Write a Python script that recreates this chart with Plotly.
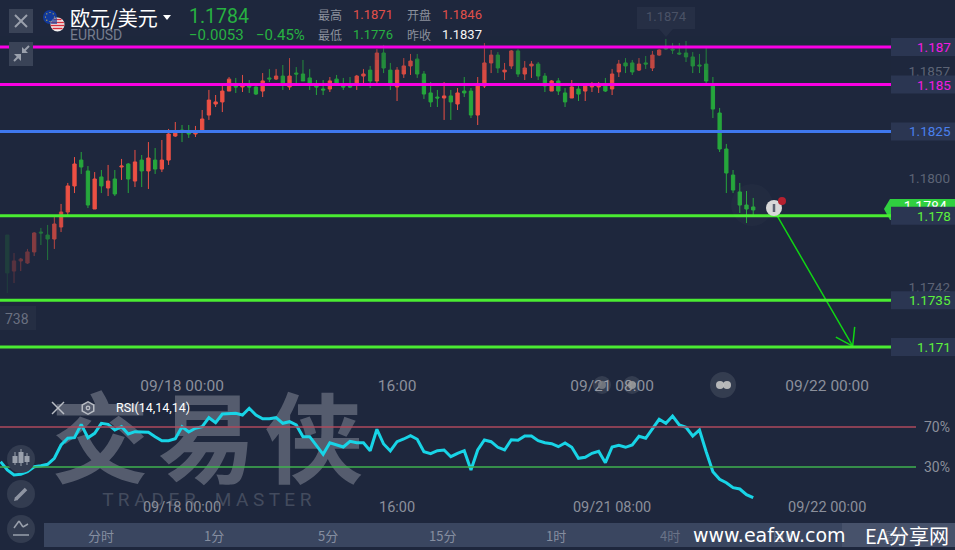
import plotly.graph_objects as go

# ---------- data ----------
opens = [1.17697,1.17505,1.17559,1.17548,1.17607,1.17713,1.17697,1.17676,1.17740,1.17820,
1.17959,1.18097,1.18039,1.17836,1.18007,1.17948,1.17996,1.18060,1.18076,1.17985,
1.18097,1.18039,1.18097,1.18049,1.18097,1.18225,1.18257,1.18252,1.18236,1.18257,
1.18337,1.18396,1.18407,1.18465,1.18492,1.18487,1.18492,1.18487,1.18465,1.18535,
1.18529,1.18545,1.18487,1.18561,1.18556,1.18535,1.18492,1.18476,1.18476,1.18529,
1.18492,1.18492,1.18503,1.18545,1.18577,1.18519,1.18668,1.18577,1.18487,1.18556,
1.18599,1.18636,1.18556,1.18455,1.18433,1.18428,1.18439,1.18396,1.18465,1.18465,
1.18337,1.18492,1.18615,1.18657,1.18567,1.18599,1.18679,1.18556,1.18599,1.18609,
1.18545,1.18465,1.18519,1.18455,1.18428,1.18476,1.18465,1.18487,1.18487,1.18492,
1.18476,1.18567,1.18615,1.18615,1.18577,1.18615,1.18588,1.18657,1.18700,1.18689,
1.18668,1.18668,1.18647,1.18604,1.18609,1.18492,1.18348,1.18156,1.18017,1.17927,
1.17857,1.17847]
highs = [1.17697,1.17601,1.17575,1.17623,1.17713,1.17735,1.17751,1.17793,1.17863,1.17975,
1.18113,1.18140,1.18065,1.18033,1.18044,1.18071,1.18044,1.18103,1.18081,1.18151,
1.18124,1.18193,1.18161,1.18204,1.18263,1.18300,1.18284,1.18284,1.18279,1.18364,
1.18471,1.18444,1.18497,1.18540,1.18535,1.18551,1.18524,1.18492,1.18561,1.18583,
1.18583,1.18604,1.18641,1.18593,1.18631,1.18583,1.18524,1.18524,1.18540,1.18551,
1.18535,1.18540,1.18551,1.18583,1.18599,1.18689,1.18711,1.18615,1.18593,1.18641,
1.18663,1.18663,1.18572,1.18513,1.18471,1.18513,1.18471,1.18481,1.18540,1.18481,
1.18540,1.18721,1.18684,1.18673,1.18615,1.18684,1.18689,1.18625,1.18625,1.18620,
1.18561,1.18524,1.18535,1.18481,1.18524,1.18492,1.18503,1.18513,1.18513,1.18535,
1.18583,1.18631,1.18641,1.18631,1.18641,1.18652,1.18679,1.18689,1.18743,1.18721,
1.18721,1.18732,1.18673,1.18663,1.18695,1.18540,1.18375,1.18183,1.18044,1.17975,
1.17932,1.17895]
lows = [1.17388,1.17441,1.17505,1.17543,1.17585,1.17644,1.17564,1.17623,1.17713,1.17804,
1.17921,1.18023,1.17841,1.17836,1.17921,1.17905,1.17905,1.17991,1.17921,1.17953,
1.17953,1.17943,1.18023,1.18033,1.18071,1.18220,1.18193,1.18215,1.18220,1.18247,
1.18311,1.18380,1.18353,1.18465,1.18455,1.18460,1.18455,1.18444,1.18433,1.18513,
1.18524,1.18471,1.18471,1.18497,1.18519,1.18471,1.18444,1.18444,1.18460,1.18492,
1.18471,1.18481,1.18471,1.18503,1.18481,1.18508,1.18561,1.18471,1.18412,1.18535,
1.18551,1.18535,1.18423,1.18380,1.18380,1.18311,1.18311,1.18364,1.18433,1.18321,
1.18284,1.18481,1.18561,1.18561,1.18524,1.18583,1.18540,1.18524,1.18535,1.18524,
1.18460,1.18465,1.18444,1.18380,1.18428,1.18412,1.18412,1.18460,1.18455,1.18460,
1.18444,1.18540,1.18561,1.18551,1.18572,1.18583,1.18572,1.18652,1.18684,1.18663,
1.18657,1.18620,1.18561,1.18561,1.18503,1.18321,1.18140,1.17921,1.17921,1.17815,
1.17761,1.17799]
closes = [1.17495,1.17559,1.17569,1.17607,1.17708,1.17708,1.17676,1.17756,1.17820,1.17959,
1.18076,1.18060,1.17857,1.17996,1.17959,1.17985,1.17916,1.18065,1.17996,1.18087,
1.18039,1.18108,1.18049,1.18097,1.18236,1.18241,1.18247,1.18236,1.18252,1.18316,
1.18417,1.18407,1.18465,1.18529,1.18487,1.18492,1.18487,1.18449,1.18519,1.18529,
1.18545,1.18503,1.18545,1.18556,1.18519,1.18508,1.18487,1.18471,1.18519,1.18503,
1.18487,1.18487,1.18545,1.18556,1.18519,1.18668,1.18588,1.18508,1.18577,1.18599,
1.18625,1.18556,1.18449,1.18407,1.18428,1.18439,1.18407,1.18455,1.18455,1.18337,
1.18492,1.18615,1.18657,1.18588,1.18577,1.18679,1.18556,1.18588,1.18609,1.18545,
1.18492,1.18519,1.18465,1.18407,1.18487,1.18449,1.18497,1.18497,1.18492,1.18465,
1.18556,1.18609,1.18599,1.18567,1.18609,1.18609,1.18657,1.18684,1.18689,1.18684,
1.18663,1.18647,1.18599,1.18599,1.18519,1.18369,1.18156,1.18028,1.17937,1.17857,
1.17836,1.17831]
rsi = [35.3,27,22,22.7,25.3,30.3,31.3,32.7,38.7,52,58.7,59.3,72.7,59.3,63.7,73.7,72.7,67,70.3,63,
65.3,65,64.7,60.3,56.3,56.3,58.3,70.3,65,68.7,70.3,79.3,74.3,83,83,83.7,82,88.7,82,78.3,
78.3,79.3,73.7,75.3,72,60.3,60.3,52,42.7,54.3,52,50,55.7,54.3,54.3,46.3,67.7,53,46,55.3,
58,61.3,57.7,45.3,43.3,46.3,47,40.3,43.7,46.3,27,47,57,55.3,49.7,47,57.3,56.7,61,61,
56.3,54.3,53.3,50.3,54,49.7,38.7,39.7,43.7,45.7,34.3,50,51.7,49.7,52,60.7,58.7,68.7,77.7,73.7,
81,72,69.7,61,67,45.3,25.3,17.7,14.3,9.3,8,2.3,-0.7]
candle_index = list(range(len(opens)))
rsi_index = list(range(-1, len(opens)))

levels = [1.187, 1.185, 1.1825, 1.178, 1.1735, 1.171]
level_labels = ["1.187", "1.185", "1.1825", "1.178", "1.1735", "1.171"]
level_colors = ["#fa00e4", "#fa00e4", "#3f78ee", "#4aec32", "#4aec32", "#4aec32"]
label_colors = ["#f21be0", "#f21be0", "#4a80ee", "#5cf03c", "#5cf03c", "#5cf03c"]

price_ticks = [1.1857, 1.18, 1.1742]
time_ticks = [26, 58, 90, 122]
time_labels = ["09/18 00:00", "16:00", "09/21 08:00", "09/22 00:00"]
rsi_levels = [70, 30]
tabs = ["分时", "1分", "5分", "15分", "1时", "4时", "日K"]
watermark = ["<b>交</b>", "<b>易</b>", "<b>侠</b>"]

arrow_x = [113.9, 125.8, 123.3, 125.8, 126.1]
arrow_y = [1.17841, 1.17105, 1.17153, 1.17105, 1.17207]

# ---------- style ----------
W, H = 955, 550
BG = "#1e273d"
RED = "#ec5044"
GREEN = "#26a63c"
FONT = "Roboto, 'Noto Sans CJK SC', sans-serif"
CJK = "'Noto Sans CJK SC', sans-serif"

def px(x): return x / W
def py(y): return 1 - y / H

shapes, annos = [], []

def rect(x0, y0, x1, y1, color, opacity=1, layer="above"):
    shapes.append(dict(type="rect", xref="paper", yref="paper", x0=px(x0), x1=px(x1), y0=py(y0), y1=py(y1),
                       fillcolor=color, opacity=opacity, line=dict(width=0), layer=layer))

def circle(cx, cy, r, color, opacity=1, line=None):
    shapes.append(dict(type="circle", xref="paper", yref="paper", x0=px(cx - r), x1=px(cx + r), y0=py(cy - r), y1=py(cy + r),
                       fillcolor=color, opacity=opacity, line=line or dict(width=0), layer="above"))

def seg(x0, y0, x1, y1, color, width=1.5, opacity=1):
    shapes.append(dict(type="line", xref="paper", yref="paper", x0=px(x0), x1=px(x1), y0=py(y0), y1=py(y1),
                       line=dict(color=color, width=width), opacity=opacity, layer="above"))

def poly(points, color, opacity=1, layer="above"):
    d = "M " + " L ".join(f"{px(x):.5f} {py(y):.5f}" for x, y in points) + " Z"
    shapes.append(dict(type="path", xref="paper", yref="paper", path=d, fillcolor=color, opacity=opacity,
                       line=dict(width=0), layer=layer))

def text(x, y, s, size, color, anchor="left", family=FONT, opacity=1):
    annos.append(dict(xref="paper", yref="paper", x=px(x), y=py(y), text=s, showarrow=False, xanchor=anchor,
                      yanchor="middle", font=dict(size=size, color=color, family=family), opacity=opacity,
                      borderpad=0, borderwidth=0))

# ---------- traces ----------
fig = go.Figure()
fig.add_trace(go.Candlestick(x=candle_index, open=opens, high=highs, low=lows, close=closes,
                             increasing=dict(line=dict(color=RED, width=1), fillcolor=RED),
                             decreasing=dict(line=dict(color=GREEN, width=1), fillcolor=GREEN),
                             whiskerwidth=0, hoverinfo="skip", showlegend=False, xaxis="x", yaxis="y"))
fig.add_trace(go.Scatter(x=arrow_x, y=arrow_y, mode="lines", line=dict(color="#10d414", width=1.5),
                         hoverinfo="skip", showlegend=False, xaxis="x", yaxis="y"))
# live price tag text, partly hidden by the 1.178 box
fig.add_trace(go.Scatter(x=[136.6], y=[1.1784], mode="text", text=["1.1784"], textposition="middle center",
                         textfont=dict(size=14, color="#ffffff", family=FONT), hoverinfo="skip",
                         showlegend=False, cliponaxis=False, xaxis="x", yaxis="y"))
# watermark below RSI line
fig.add_trace(go.Scatter(x=[13.8, 29.7, 45.6], y=[47, 47, 47], mode="text", text=watermark, textposition="middle center",
                         textfont=dict(size=98, color="#555c6e", family=CJK), hoverinfo="skip",
                         showlegend=False, cliponaxis=False, xaxis="x2", yaxis="y2"))
fig.add_trace(go.Scatter(x=[29.7], y=[5], mode="text", text=["T R A D E R    M A S T E R"], textposition="bottom center",
                         textfont=dict(size=19, color="#434b5e", family=FONT), hoverinfo="skip",
                         showlegend=False, cliponaxis=False, xaxis="x2", yaxis="y2"))
fig.add_trace(go.Scatter(x=rsi_index, y=rsi, mode="lines", line=dict(color="#18d4e6", width=3),
                         hoverinfo="skip", showlegend=False, xaxis="x2", yaxis="y2"))

# ---------- shapes: fades ----------
for x0, a in [(0, .82), (10, .72), (20, .62), (30, .5), (40, .38), (50, .25), (60, .1)]:
    rect(x0, 210, x0 + 10, 300, BG, a)
for y0, a in [(36, .35), (50, .28), (60, .2), (70, .1)]:
    rect(0, y0, 891, y0 + 10 if y0 > 36 else 50, BG, a)

# top / bottom marker boxes
rect(637, 7, 695, 29, "#262f45")
poly([(659, 29), (673, 29), (666, 37)], "#262f45")
text(666, 17, "1.1874", 13, "#4a5266", "center")
rect(0, 306, 36, 330, "#252e43")
text(5, 319, "738", 14, "#6a7080")

# live tag sits under its text
poly([(884, 209), (890, 199), (955, 199), (955, 220), (890, 220)], "#30d040", 1, layer="below")

# level lines and boxes
for lv, col in zip(levels, level_colors):
    shapes.append(dict(type="line", xref="paper", yref="y", x0=0, x1=px(891), y0=lv, y1=lv,
                       line=dict(color=col, width=3), layer="above"))
for lv, lab, col in zip(levels, level_labels, label_colors):
    shapes.append(dict(type="rect", xref="paper", yref="y", x0=px(891), x1=1,
                       y0=lv - 9 / 18750, y1=lv + 9 / 18750, fillcolor="#2b3652", line=dict(width=0), layer="above"))
    annos.append(dict(xref="paper", yref="y", x=px(952.5), y=lv, text=lab, showarrow=False, xanchor="right",
                      yanchor="middle", font=dict(size=13.5, color=col, family=FONT)))

# RSI level lines
for lv, col in zip(rsi_levels, ["#ae4a5c", "#3fb24f"]):
    shapes.append(dict(type="line", xref="paper", yref="y2", x0=0, x1=px(916), y0=lv, y1=lv,
                       line=dict(color=col, width=1.5), layer="above"))

# info icon
circle(752, 205, 21, "#ffffff", .018)
circle(774, 208, 8, "#d8d8d8")
seg(774, 204, 774, 212, "#5a6070", 2.5)
circle(782, 201, 4, "#b5202f")

# time-axis bubbles
for cx, r, inner, col in [(602, 9, 4, "#777a82"), (632, 9, 4, "#9a9a9a"), (723, 13, 0, "#000"), (720, 0, 4, "#c4c4c4"), (727, 0, 4, "#c4c4c4")]:
    if r:
        circle(cx, 385, r, "#ffffff", .1)
    if inner:
        circle(cx, 385, inner, col, .9)

# ---------- header ----------
rect(9, 9, 33, 33, "#3a4357", layer="above")
seg(15, 15, 27, 27, "#9aa0ac", 2)
seg(27, 15, 15, 27, "#9aa0ac", 2)
rect(9, 42, 33, 66, "#3a4357")
seg(14, 61, 20, 55, "#9aa0ac", 2)
seg(23, 52, 29, 46, "#9aa0ac", 2)
poly([(14, 54), (21, 54), (21, 61)], "#9aa0ac")
poly([(22, 53), (22, 47), (28, 53)], "#9aa0ac")

circle(50, 17, 7, "#123a9c")
for dx, dy in [(0, -4.5), (3.2, -3.2), (4.5, 0), (3.2, 3.2), (0, 4.5), (-3.2, 3.2), (-4.5, 0), (-3.2, -3.2)]:
    circle(50 + dx, 17 + dy, .6, "#e8c840")
circle(57.5, 24.5, 7, "#f4f4f4")
for yy, half in [(19.5, 4), (22.5, 6.4), (25.5, 6.7), (28.5, 5)]:
    seg(57.5 - half, yy, 57.5 + half, yy, "#d8303c", 1.5)
poly([(52, 19), (57, 18), (57, 24), (51, 24)], "#2b4a9c", .75)

text(70, 18, "欧元/美元", 20, "#ffffff", family=CJK)
poly([(163, 15), (171, 15), (167, 20)], "#ffffff")
text(70, 35, "EURUSD", 14, "#767d8e")
text(189, 17, "1.1784", 19.5, "#27b141")
text(189, 35, "−0.0053", 15, "#27b141")
text(256, 35, "−0.45%", 15, "#27b141")
text(318, 15, "最高", 12, "#8b909c", family=CJK)
text(353, 15, "1.1871", 13, "#e0504a")
text(407, 15, "开盘", 12, "#8b909c", family=CJK)
text(442, 15, "1.1846", 13, "#e0504a")
text(318, 35, "最低", 12, "#8b909c", family=CJK)
text(353, 35, "1.1776", 13, "#27b141")
text(407, 35, "昨收", 12, "#8b909c", family=CJK)
text(442, 35, "1.1837", 13, "#f4f4f4")

# ---------- RSI header ----------
seg(52, 402, 64, 414, "#b8bcc4", 1.5)
seg(64, 402, 52, 414, "#b8bcc4", 1.5)
poly([(88, 401), (94.5, 404.5), (94.5, 411.5), (88, 415), (81.5, 411.5), (81.5, 404.5)], "#b8bcc4")
poly([(88, 402.6), (93, 405.4), (93, 410.6), (88, 413.4), (83, 410.6), (83, 405.4)], "#555c6e")
circle(88, 408, 2.4, "#b8bcc4")
circle(88, 408, 1.1, "#555c6e")
text(116, 407, "RSI(14,14,14)", 12.5, "#ffffff")

# ---------- left tool buttons ----------
for cy in [459, 494, 529]:
    circle(21, cy, 14, "#333c50")
for xc, y0, y1, h0, h1 in [(15, 456, 463, 452, 465), (21, 452, 463, 449, 466), (27, 456, 462, 453, 465)]:
    seg(xc, h0, xc, h1, "#9aa0ac", 1)
    rect(xc - 2.5, y0, xc + 2.5, y1, "#9aa0ac")
seg(16, 499, 26, 489, "#8f95a2", 3.5)
poly([(14, 501), (15, 497), (18, 500)], "#8f95a2")
seg(14, 528, 19, 521, "#9aa0ac", 1.5)
seg(19, 521, 23, 527, "#9aa0ac", 1.5)
seg(23, 527, 28, 524, "#9aa0ac", 1.5)
seg(13, 535, 29, 535, "#9aa0ac", 1.5)

# ---------- bottom tabs ----------
rect(44, 523, 955, 547, "#3a4660")
rect(842, 523, 955, 547, "#47526b")
for cx, lab in zip([101, 214, 328, 442, 556, 670, 783], tabs):
    text(cx, 535, lab, 13, "#8a92a4", "center", family=CJK, opacity=.95 if cx < 600 else .6)
text(895, 535, "周K", 13, "#8a92a4", "center", family=CJK, opacity=.5)
text(769, 535, "www.eafxw.com", 19, "#ffffff", "center", family="'DejaVu Sans', sans-serif")
text(907, 535, "EA分享网", 20, "#ffffff", "center", family=CJK)

# ---------- layout ----------
main_bottom = 376
rsi_top, rsi_bottom = 395, 499
y_scale = 18750

axis_common = dict(showgrid=False, zeroline=False, showline=False, ticks="", ticklen=0, fixedrange=True)
x_range = [-7.3 / 6.72, (W - 7.3) / 6.72]

fig.update_layout(
    width=W, height=H, paper_bgcolor=BG, plot_bgcolor=BG, showlegend=False,
    margin=dict(l=0, r=0, t=0, b=0), hovermode=False, shapes=shapes, annotations=annos,
    xaxis=dict(axis_common, domain=[0, 1], range=x_range, anchor="y", tickmode="array", tickvals=time_ticks,
               ticktext=time_labels, tickfont=dict(size=15.5, color="#8b8f9b", family=FONT),
               rangeslider=dict(visible=False), ticklabelstandoff=-2),
    yaxis=dict(axis_common, domain=[py(main_bottom), 1], range=[1.187 - (main_bottom - 47) / y_scale, 1.187 + 47 / y_scale],
               side="right", anchor="x", tickmode="array", tickvals=price_ticks, tickformat=".4f",
               ticklabelposition="inside", tickfont=dict(size=13.5, color="#5c6375", family=FONT), ticklabelstandoff=2),
    xaxis2=dict(axis_common, domain=[0, 1], range=x_range, anchor="y2", tickmode="array", tickvals=time_ticks,
                ticktext=time_labels, tickfont=dict(size=14.5, color="#8b8f9b", family=FONT), ticklabelstandoff=-3),
    yaxis2=dict(axis_common, domain=[py(rsi_bottom), py(rsi_top)], range=[70 - (rsi_bottom - 427), 70 + (427 - rsi_top)],
                side="right", anchor="x2", tickmode="array", tickvals=rsi_levels, ticktext=["70%", "30%"],
                ticklabelposition="inside", tickfont=dict(size=14, color="#8b8f9b", family=FONT), ticklabelstandoff=2),
    boxgap=0.3,
)

fig.write_html("out.html", config={"displayModeBar": False},
               post_script="document.body.style.margin='0';document.body.style.overflow='hidden';")
